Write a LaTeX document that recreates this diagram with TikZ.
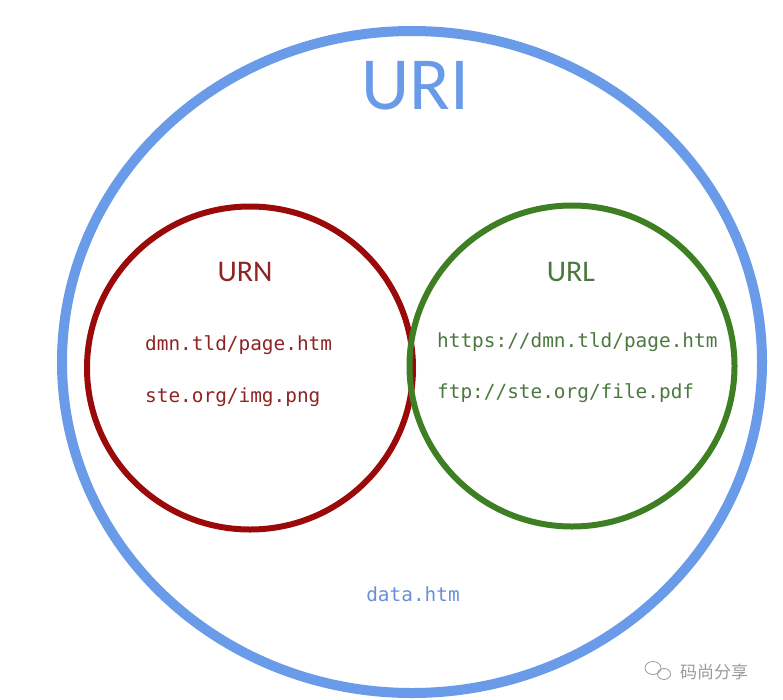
\documentclass[tikz,border=0pt]{standalone}
\usepackage{fontspec}
\setmainfont{Carlito}
\newfontfamily\monof{DejaVu Sans Mono}
\newfontfamily\cjkf{Noto Sans CJK SC}
\definecolor{uriblue}{HTML}{6A9BE8}
\definecolor{urnred}{HTML}{9A0A0A}
\definecolor{urlgreen}{HTML}{3D7F22}
\definecolor{urntext}{HTML}{8E2424}
\definecolor{urltext}{HTML}{4C7840}
\definecolor{datablue}{HTML}{6890D8}
\definecolor{wmgray}{HTML}{9A9A9A}
\tikzset{
  set/.style={draw, ellipse},
  title/.style={font=\fontsize{30}{30}\selectfont, anchor=center, inner sep=0pt},
  mono/.style={font=\monof\fontsize{19.4}{20}\selectfont, anchor=base west, inner sep=0pt},
}
\usetikzlibrary{shapes.geometric}
\begin{document}
\begin{tikzpicture}[x=1pt,y=-1pt]
\useasboundingbox (0,0) rectangle (783,699);
% sets
\node[set, draw=uriblue, line width=10pt, minimum width=700pt, minimum height=662pt, inner sep=0pt] (uri) at (412,362) {};
\node[set, draw=urnred, line width=6pt, minimum width=326pt, minimum height=323pt, inner sep=0pt] (urn) at (250,368) {};
\node[set, draw=urlgreen, line width=6pt, minimum width=325pt, minimum height=321pt, inner sep=0pt] (url) at (572,366) {};
% titles
\node[title, font=\fontsize{75}{75}\selectfont, text=uriblue] (uriT) at (415,86) {URI};
\node[title, text=urntext] (urnT) at (245,272) {URN};
\node[title, text=urltext] (urlT) at (571,272) {URL};
% entries
\node[mono, text=urntext] (u1) at (145,350) {dmn.tld/page.htm};
\node[mono, text=urntext] (u2) at (145,402) {ste.org/img.png};
\node[mono, text=urltext] (l1) at (437,347) {https://dmn.tld/page.htm};
\node[mono, text=urltext] (l2) at (437,398) {ftp://ste.org/file.pdf};
\node[mono, anchor=base, text=datablue] (d1) at (413,601) {data.htm};
% watermark
\node[font=\cjkf\fontsize{17}{17}\selectfont, text=wmgray, anchor=base west, inner sep=0pt] (wm) at (680,678) {码尚分享};
\draw[wmgray, line width=0.8pt] (653,668) ellipse (8pt and 6.5pt);
\draw[wmgray, line width=0.8pt] (664,674) ellipse (6.5pt and 5.5pt);
\end{tikzpicture}
\end{document}
